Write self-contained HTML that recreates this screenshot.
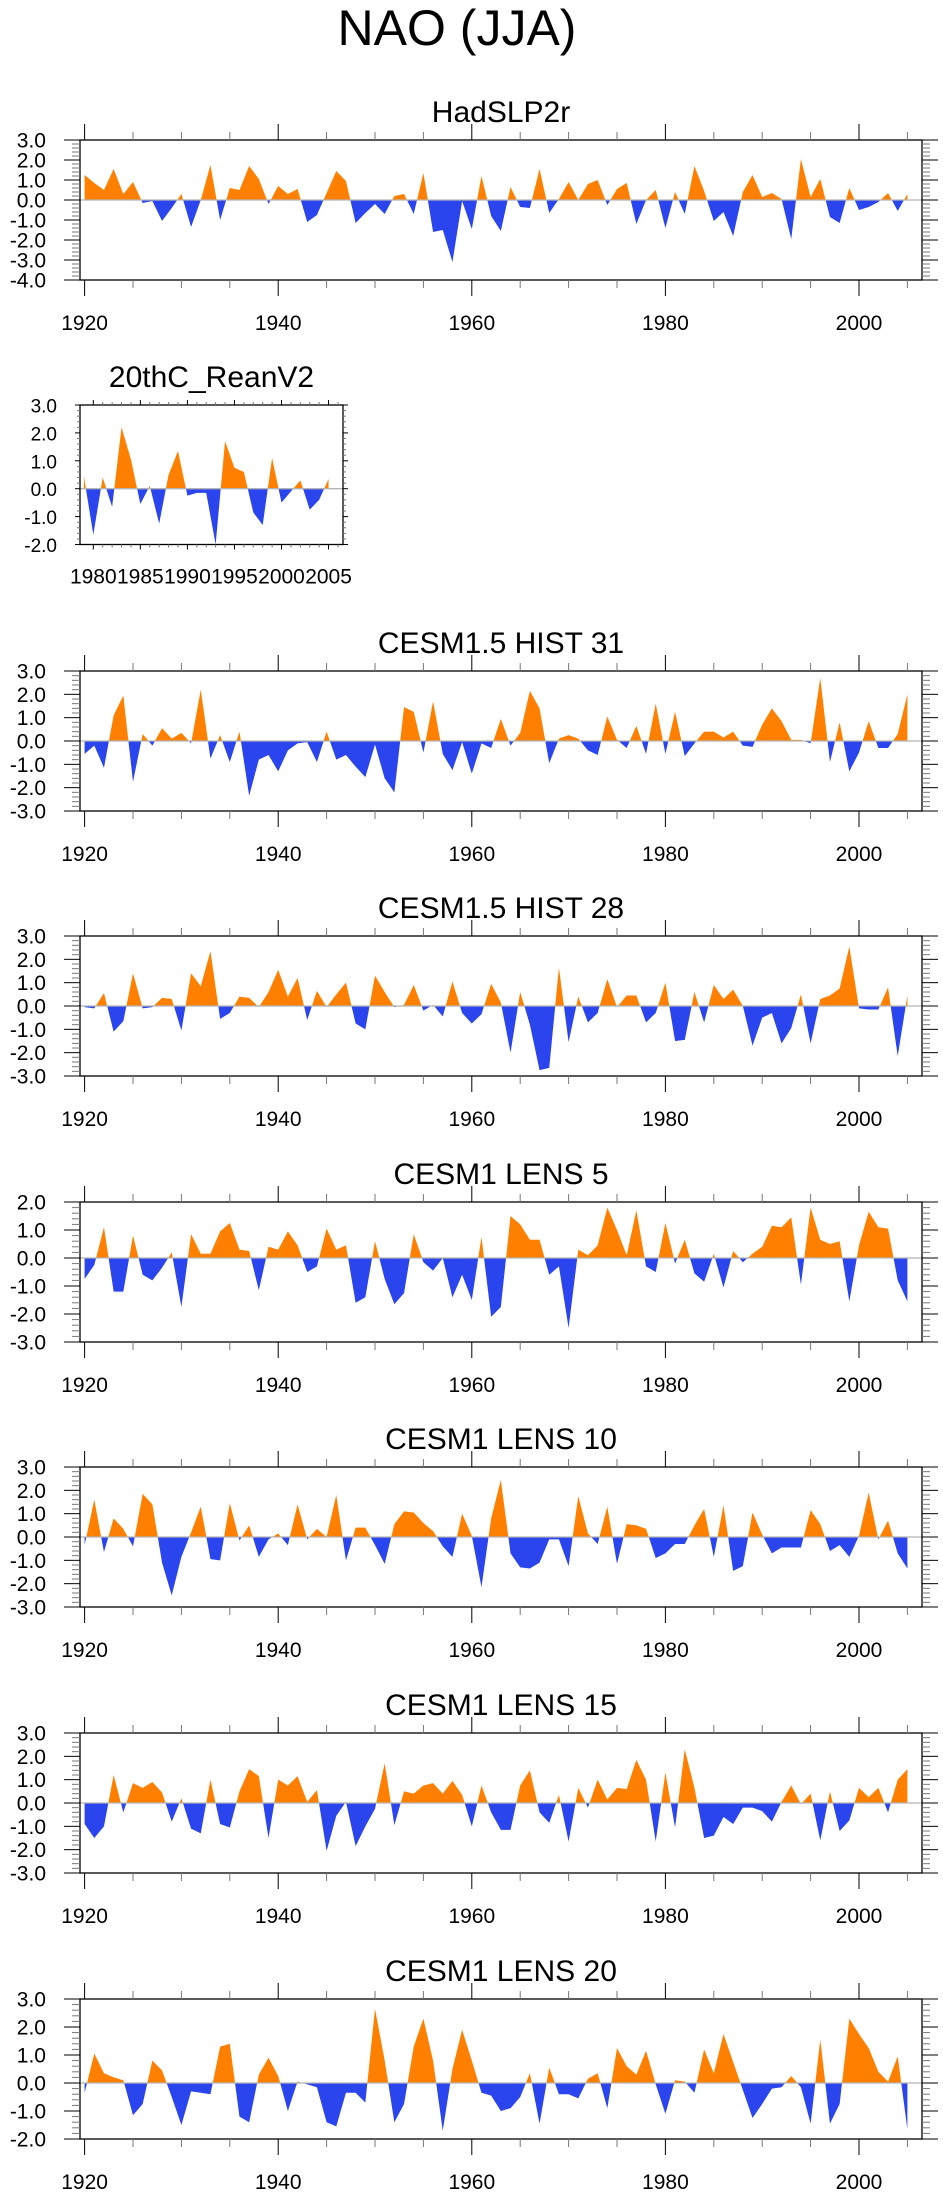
<!DOCTYPE html>
<html><head><meta charset="utf-8"><style>
html,body{margin:0;padding:0;background:#fff;}
svg{display:block;font-family:"Liberation Sans",Arial,sans-serif;}
</style></head><body>
<svg id="fig" width="943" height="2196" viewBox="0 0 943 2196">
<text x="457" y="45" font-size="50" text-anchor="middle">NAO (JJA)</text>
</svg>
<script>
const yearsLong = []; for (let y = 1920; y <= 2005; y++) yearsLong.push(y);
const yearsShort = []; for (let y = 1979; y <= 2005; y++) yearsShort.push(y);
const xTicksLong = [1920, 1940, 1960, 1980, 2000];
const xTicksShort = [1980, 1985, 1990, 1995, 2000, 2005];

const hadslp = [1.25,0.85,0.5,1.55,0.3,0.9,-0.15,-0.05,-1.05,-0.4,0.3,-1.35,0.0,1.75,-1.0,0.6,0.5,1.7,1.05,-0.2,0.7,0.3,0.55,-1.1,-0.75,0.35,1.45,0.95,-1.15,-0.65,-0.2,-0.7,0.2,0.3,-0.7,1.35,-1.6,-1.5,-3.1,-0.05,-1.45,1.2,-0.8,-1.55,0.65,-0.35,-0.4,1.55,-0.65,0.05,0.9,0.0,0.8,1.0,-0.25,0.55,0.85,-1.2,0.0,0.5,-1.4,0.4,-0.7,1.7,0.45,-1.05,-0.6,-1.8,0.4,1.25,0.15,0.35,0.05,-1.95,2.05,0.15,1.05,-0.85,-1.15,0.6,-0.5,-0.35,-0.1,0.35,-0.55,0.3];
const rean = [0.45,-1.65,0.4,-0.65,2.2,1.05,-0.55,0.1,-1.25,0.5,1.35,-0.25,-0.15,-0.15,-2.0,1.7,0.75,0.6,-0.85,-1.3,1.1,-0.5,-0.1,0.3,-0.75,-0.4,0.35];
const hist31 = [-0.55,-0.2,-1.15,1.1,1.95,-1.75,0.3,-0.2,0.55,0.1,0.35,-0.1,2.2,-0.75,0.25,-0.9,0.4,-2.35,-0.8,-0.6,-1.3,-0.4,-0.1,-0.05,-0.9,0.4,-0.8,-0.6,-1.1,-1.55,-0.15,-1.6,-2.2,1.45,1.25,-0.5,1.7,-0.55,-1.25,-0.05,-1.4,-0.1,-0.3,0.95,-0.2,0.35,2.15,1.4,-0.95,0.1,0.25,0.1,-0.4,-0.6,1.05,0.05,-0.3,0.65,-0.55,1.6,-0.55,1.25,-0.65,-0.1,0.4,0.4,0.15,0.4,-0.2,-0.25,0.7,1.4,0.85,0.05,0.05,-0.1,2.7,-0.9,0.8,-1.3,-0.5,0.85,-0.3,-0.3,0.3,2.0];
const hist28 = [-0.05,-0.1,0.55,-1.1,-0.65,1.4,-0.1,-0.05,0.35,0.3,-1.05,1.4,0.85,2.35,-0.55,-0.3,0.4,0.35,-0.05,0.6,1.55,0.4,1.2,-0.6,0.65,-0.05,0.5,1.0,-0.75,-1.0,1.3,0.6,-0.05,0.05,0.9,-0.2,0.05,-0.45,1.05,-0.3,-0.75,-0.35,0.95,0.15,-2.0,0.6,-0.8,-2.75,-2.65,1.65,-1.55,0.4,-0.7,-0.3,1.15,-0.05,0.45,0.45,-0.7,-0.3,1.0,-1.5,-1.45,0.6,-0.7,0.9,0.3,0.7,0.0,-1.7,-0.5,-0.3,-1.6,-0.95,0.5,-1.6,0.3,0.45,0.75,2.55,-0.1,-0.15,-0.15,0.8,-2.15,0.45];
const lens5 = [-0.75,-0.25,1.1,-1.2,-1.2,0.8,-0.6,-0.8,-0.35,0.2,-1.75,0.85,0.15,0.15,0.95,1.25,0.3,0.25,-1.15,0.4,0.3,0.95,0.45,-0.5,-0.3,1.05,0.3,0.45,-1.6,-1.4,0.6,-0.75,-1.65,-1.25,0.85,-0.15,-0.45,0.0,-1.4,-0.6,-1.5,0.75,-2.1,-1.75,1.5,1.2,0.65,0.65,-0.6,-0.3,-2.5,0.3,0.1,0.45,1.8,1.0,0.1,1.7,-0.3,-0.5,1.25,-0.2,0.65,-0.55,-0.85,0.15,-1.05,0.25,-0.15,0.15,0.4,1.15,1.1,1.45,-0.95,1.8,0.65,0.5,0.6,-1.55,0.45,1.65,1.1,1.05,-0.8,-1.55];
const lens10 = [-0.35,1.6,-0.65,0.8,0.35,-0.4,1.85,1.4,-1.1,-2.5,-0.85,0.2,1.3,-0.95,-1.0,1.45,-0.15,0.5,-0.85,-0.1,0.15,-0.35,1.4,-0.1,0.35,0.0,1.8,-1.0,0.4,0.4,-0.35,-1.15,0.55,1.1,1.05,0.6,0.25,-0.4,-0.85,1.0,0.05,-2.15,0.8,2.45,-0.7,-1.3,-1.35,-1.1,-0.1,-0.1,-1.25,1.75,0.15,-0.3,1.3,-1.15,0.55,0.5,0.35,-0.9,-0.7,-0.3,-0.3,0.5,1.2,-0.85,1.35,-1.45,-1.25,1.05,0.1,-0.7,-0.45,-0.45,-0.45,1.15,0.55,-0.6,-0.35,-0.85,0.05,1.9,-0.1,0.7,-0.7,-1.35];
const lens15 = [-0.9,-1.5,-1.0,1.2,-0.4,0.85,0.65,0.9,0.45,-0.8,0.2,-1.1,-1.3,1.0,-0.9,-1.05,0.5,1.45,1.15,-1.5,1.0,0.75,1.15,0.05,0.55,-2.05,-0.55,0.05,-1.85,-1.0,-0.25,1.7,-0.95,0.5,0.4,0.75,0.85,0.4,0.95,0.35,-1.0,0.75,-0.4,-1.15,-1.15,0.75,1.4,-0.4,-0.85,0.35,-1.65,0.65,-0.2,1.0,0.15,0.65,0.6,1.85,1.0,-1.65,1.3,-1.05,2.3,0.65,-1.5,-1.4,-0.6,-0.9,-0.2,-0.2,-0.35,-0.8,0.05,0.75,-0.05,0.4,-1.6,0.5,-1.2,-0.75,0.65,0.25,0.65,-0.4,1.0,1.45];
const lens20 = [-0.35,1.05,0.35,0.2,0.1,-1.15,-0.75,0.8,0.45,-0.5,-1.5,-0.3,-0.35,-0.4,1.3,1.4,-1.2,-1.4,0.3,0.9,0.25,-1.0,0.05,-0.05,-0.15,-1.4,-1.55,-0.35,-0.35,-0.7,2.65,0.8,-1.4,-0.75,1.3,2.3,0.8,-1.7,0.5,1.9,0.8,-0.35,-0.45,-1.0,-0.9,-0.5,0.35,-1.45,0.55,-0.4,-0.4,-0.55,0.15,0.35,-0.9,1.25,0.6,0.3,1.15,-0.05,-1.1,0.1,0.05,-0.35,1.2,0.35,1.75,0.75,-0.25,-1.25,-0.75,-0.2,-0.15,0.25,-0.15,-1.45,1.55,-1.45,-0.75,2.3,1.75,1.25,0.4,0.05,0.95,-1.65];

const NS = 'http://www.w3.org/2000/svg';
const svg = document.getElementById('fig');
function mk(tag, attrs, parent) {
  const e = document.createElementNS(NS, tag);
  for (const k in attrs) e.setAttribute(k, attrs[k]);
  (parent || svg).appendChild(e);
  return e;
}
const fmt = v => v.toFixed(1);
let clipId = 0;

function panel(opt) {
  const g = mk('g', {});
  
  
  const L = opt.left, R = opt.right, T = opt.top, B = opt.top + opt.h;
  const xs = y => opt.x0 + (y - opt.y0yr) * opt.dx;
  const ys = v => B - (v - opt.ymin) / (opt.ymax - opt.ymin) * (B - T);
  // title
  const t = mk('text', {x: (L + R) / 2, y: T - 18, 'font-size': 30, 'text-anchor': 'middle'}, g);
  t.textContent = opt.title;
  
  
  // area
  const z = ys(0);
  let pts = `${xs(opt.years[0])},${z} `;
  opt.values.forEach((v, i) => { pts += `${xs(opt.years[i])},${ys(v)} `; });
  pts += `${xs(opt.years[opt.years.length - 1])},${z}`;
  const id1 = 'c' + (clipId++), id2 = 'c' + (clipId++);
  const defs = mk('defs', {}, g);
  const c1 = mk('clipPath', {id: id1}, defs); mk('rect', {x: L, y: T, width: R - L, height: z - T}, c1);
  const c2 = mk('clipPath', {id: id2}, defs); mk('rect', {x: L, y: z, width: R - L, height: B - z}, c2);
  const pos = mk('polygon', {points: pts, fill: '#ff8000', 'clip-path': `url(#${id1})`}, g);
  
  
  const neg = mk('polygon', {points: pts, fill: '#2a44ee', 'clip-path': `url(#${id2})`}, g);
  
  
  const zl = mk('line', {x1: L, x2: R, y1: z, y2: z, stroke: '#b4b4b4', 'stroke-width': 1.3}, g);
  
  
  // box
  const box = mk('rect', {x: L, y: T, width: R - L, height: B - T, fill: 'none', stroke: '#000', 'stroke-width': 1.3}, g);
  
  
  // y ticks
  for (let k = 0; k <= Math.round((opt.ymax - opt.ymin) / 0.2); k++) {
    const v = opt.ymin + k * 0.2;
    const major = Math.abs(v - Math.round(v)) < 1e-6;
    const len = major ? opt.ytMaj : opt.ytMin;
    const yy = ys(v);
    mk('line', {x1: L - len, x2: L, y1: yy, y2: yy, stroke: major ? '#000' : '#777', 'stroke-width': 1}, g);
    mk('line', {x1: R, x2: R + len, y1: yy, y2: yy, stroke: major ? '#000' : '#777', 'stroke-width': 1}, g);
    if (major) {
      const tl = mk('text', {x: opt.ylabX, y: yy + 7.5, 'font-size': opt.yfs, 'text-anchor': 'end'}, g);
      tl.textContent = fmt(v);
      
      
    }
  }
  // x ticks
  for (let yr = opt.tickStart; xs(yr) <= R; yr += opt.minorStep) {
    const xx = xs(yr);
    if (xx < L) continue;
    const major = (yr - opt.tickStart) % opt.majorStep === 0;
    const len = major ? opt.xtMaj : opt.xtMin;
    mk('line', {x1: xx, x2: xx, y1: T - len, y2: T, stroke: major ? '#000' : '#777', 'stroke-width': 1}, g);
    mk('line', {x1: xx, x2: xx, y1: B, y2: B + len, stroke: major ? '#000' : '#777', 'stroke-width': 1}, g);
  }
  opt.xTicks.forEach(yr => {
    const tl = mk('text', {x: xs(yr), y: B + opt.xlabOff, 'font-size': 21, 'text-anchor': 'middle'}, g);
    tl.textContent = yr;
    
    
  });
}

const longBase = {left: 80, right: 922, h: 140, x0: 84.6, y0yr: 1920, dx: 9.68, years: yearsLong,
  xTicks: xTicksLong, tickStart: 1920, minorStep: 5, majorStep: 20, ytMaj: 16, ytMin: 8, xtMaj: 16, xtMin: 8,
  ylabX: 46, yfs: 21, xlabOff: 50};

panel(Object.assign({}, longBase, {name: 'panel-hadslp2r', title: 'HadSLP2r', top: 140, ymin: -4, ymax: 3, values: hadslp}));
panel({name: 'panel-20thc-reanv2', title: '20thC_ReanV2', left: 80, right: 343, top: 405, h: 139.5,
  x0: 93.3, y0yr: 1980, dx: 9.41, years: yearsShort, values: rean, ymin: -2, ymax: 3,
  xTicks: xTicksShort, tickStart: 1980, minorStep: 1, majorStep: 5, ytMaj: 5, ytMin: 3, xtMaj: 5, xtMin: 3,
  ylabX: 57, yfs: 19, xlabOff: 39});
panel(Object.assign({}, longBase, {name: 'panel-cesm15-hist31', title: 'CESM1.5 HIST 31', top: 671, ymin: -3, ymax: 3, values: hist31}));
panel(Object.assign({}, longBase, {name: 'panel-cesm15-hist28', title: 'CESM1.5 HIST 28', top: 936, ymin: -3, ymax: 3, values: hist28}));
panel(Object.assign({}, longBase, {name: 'panel-cesm1-lens5', title: 'CESM1 LENS 5', top: 1202, ymin: -3, ymax: 2, values: lens5}));
panel(Object.assign({}, longBase, {name: 'panel-cesm1-lens10', title: 'CESM1 LENS 10', top: 1467, ymin: -3, ymax: 3, values: lens10}));
panel(Object.assign({}, longBase, {name: 'panel-cesm1-lens15', title: 'CESM1 LENS 15', top: 1733, ymin: -3, ymax: 3, values: lens15}));
panel(Object.assign({}, longBase, {name: 'panel-cesm1-lens20', title: 'CESM1 LENS 20', top: 1999, ymin: -2, ymax: 3, values: lens20}));
</script>
</body></html>
